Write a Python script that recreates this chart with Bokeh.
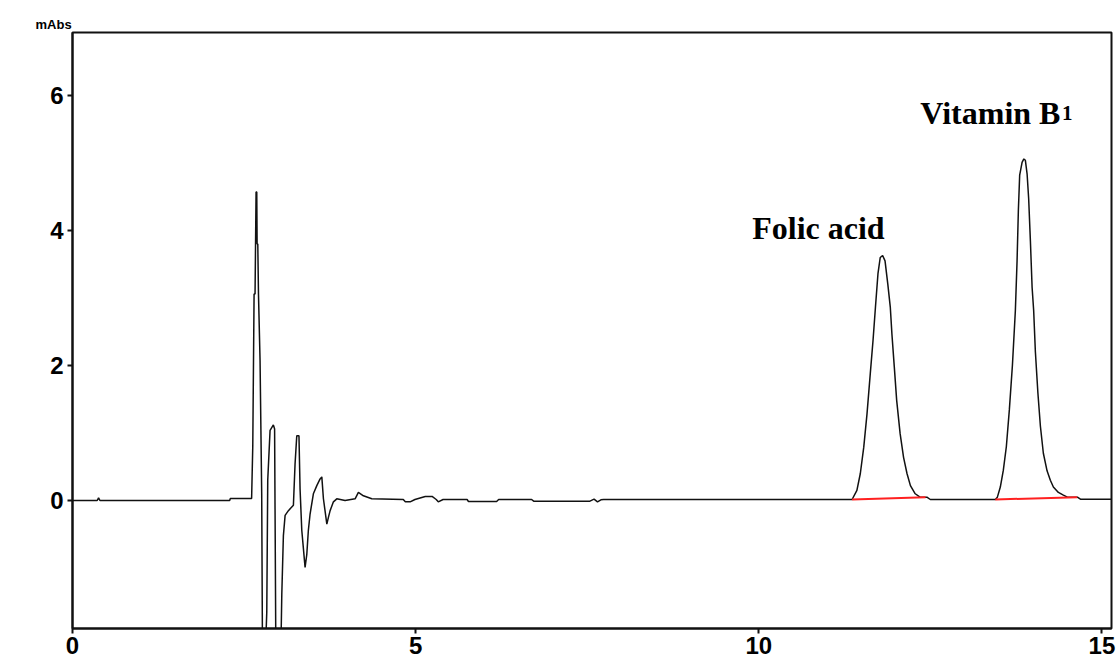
from bokeh.plotting import figure
from bokeh.models import ColumnDataSource, FixedTicker, Range1d
from bokeh.core.properties import value
from bokeh.embed import file_html
from bokeh.resources import INLINE

# ---- data (time in min, absorbance in mAbs) ----
time_min = [0.0, 0.36, 0.38, 0.40, 2.29, 2.30, 2.61, 2.627, 2.646, 2.66, 2.675, 2.685, 2.69, 2.70, 2.71,
            2.733, 2.757, 2.77, 2.80, 2.831, 2.845, 2.879, 2.927, 2.945, 2.965, 3.03, 3.050, 3.073,
            3.098, 3.146, 3.219, 3.243, 3.268, 3.30, 3.316, 3.341, 3.389, 3.414, 3.437, 3.462, 3.510,
            3.560, 3.608, 3.633, 3.656, 3.706, 3.729, 3.754, 3.802, 3.851, 3.972, 4.118, 4.166, 4.239,
            4.361, 4.82, 4.85, 4.92, 4.99, 5.14, 5.24, 5.30, 5.33, 5.40, 5.75, 5.77, 6.18, 6.21, 6.69,
            6.72, 7.54, 7.60, 7.65, 7.70, 7.74, 11.36,
            11.43, 11.48, 11.53, 11.577, 11.625, 11.665, 11.70, 11.737, 11.77, 11.805, 11.84, 11.88,
            11.917, 11.94, 11.975, 12.01, 12.06, 12.11, 12.16, 12.21, 12.28, 12.35, 12.45, 12.50,
            13.447, 13.477, 13.520, 13.564, 13.608, 13.652, 13.696, 13.739, 13.764, 13.783, 13.802,
            13.837, 13.863, 13.885, 13.910, 13.933, 13.958, 13.983, 14.006, 14.031, 14.067, 14.104,
            14.147, 14.201, 14.249, 14.293, 14.366, 14.439, 14.497, 14.643, 14.687, 15.14]
absorbance = [0.0, 0.0, 0.04, 0.0, 0.0, 0.03, 0.03, 0.81, 3.06, 3.06, 4.57, 4.57, 3.80, 3.80, 3.06,
              2.07, 0.10, -2.6, -2.6, -1.65, 0.30, 1.04, 1.12, 1.06, -2.6, -2.6, -1.38, -0.52,
              -0.22, -0.15, -0.07, 0.54, 0.96, 0.96, 0.17, -0.44, -0.99, -0.80, -0.44, -0.20, 0.10,
              0.22, 0.32, 0.35, 0.03, -0.35, -0.25, -0.15, -0.02, 0.025, 0.0, 0.025, 0.12, 0.07,
              0.025, 0.015, -0.02, -0.02, 0.015, 0.06, 0.06, 0.015, -0.02, 0.015, 0.015, -0.015,
              -0.015, 0.015, 0.015, -0.01, -0.01, 0.02, -0.02, 0.01, 0.015, 0.015,
              0.15, 0.40, 0.79, 1.28, 1.88, 2.37, 2.86, 3.36, 3.60, 3.63, 3.55, 3.21,
              2.86, 2.47, 1.98, 1.48, 0.99, 0.64, 0.40, 0.22, 0.10, 0.05, 0.05, 0.015,
              0.015, 0.05, 0.20, 0.45, 0.80, 1.35, 2.00, 2.81, 3.55, 4.30, 4.82,
              5.01, 5.06, 5.04, 4.84, 4.47, 3.85, 3.16, 2.81, 2.20, 1.60, 1.10,
              0.70, 0.44, 0.30, 0.20, 0.12, 0.08, 0.05, 0.05, 0.02, 0.02]

# integration baselines (start, end) for each peak
base_x0 = [11.36, 13.447]
base_y0 = [0.015, 0.015]
base_x1 = [12.43, 14.64]
base_y1 = [0.05, 0.05]

# peak annotations
peak_names = ["Folic acid", "Vitamin B"]
peak_label_x = [9.905, 12.354]
peak_label_y = [4.04, 5.74]
sub_text = ["1"]
sub_x = [14.42]
sub_y = [5.74]

y_unit = "mAbs"
x_ticks = [0, 5, 10, 15]
y_ticks = [0, 2, 4, 6]
x_lo, x_hi = 0.0, 15.14
y_lo, y_hi = -1.896, 6.933

p = figure(width=1116, height=661, output_backend="svg", toolbar_location=None,
           x_range=Range1d(x_lo, x_hi), y_range=Range1d(y_lo, y_hi),
           min_border_left=72, min_border_right=5, min_border_top=32, min_border_bottom=33)
p.background_fill_color = "white"
p.border_fill_color = "white"
p.outline_line_color = "#111111"
p.outline_line_width = 2
p.xgrid.visible = False
p.ygrid.visible = False

p.title.text = y_unit
p.title.align = "left"
p.title.offset = -37
p.title.standoff = 2
p.title.text_font = "Liberation Sans"
p.title.text_font_style = "bold"
p.title.text_font_size = "13px"
p.title.text_color = "black"

p.line(time_min, absorbance, line_color="#111111", line_width=1.5)
p.segment(x0=base_x0, y0=base_y0, x1=base_x1, y1=base_y1, line_color="#ff2020", line_width=2)

src = ColumnDataSource(dict(x=peak_label_x, y=peak_label_y, t=peak_names))
p.text(x="x", y="y", text="t", source=src, text_font=value("Liberation Serif"),
       text_font_style="bold", text_font_size="32px", text_color="black",
       text_baseline="alphabetic", text_align="left")
src2 = ColumnDataSource(dict(x=sub_x, y=sub_y, t=sub_text))
p.text(x="x", y="y", text="t", source=src2, text_font=value("Liberation Serif"),
       text_font_style="bold", text_font_size="21px", text_color="black",
       text_baseline="alphabetic", text_align="left")

for ax in (p.xaxis[0], p.yaxis[0]):
    ax.axis_line_color = "#111111"
    ax.axis_line_width = 2
    ax.major_tick_line_color = "#111111"
    ax.major_tick_line_width = 2
    ax.major_tick_out = 5
    ax.major_tick_in = 0
    ax.minor_tick_line_color = None
    ax.major_label_text_font = "Liberation Sans"
    ax.major_label_text_font_style = "bold"
    ax.major_label_text_font_size = "24px"
    ax.major_label_text_color = "black"

p.xaxis.ticker = FixedTicker(ticks=x_ticks)
p.yaxis.ticker = FixedTicker(ticks=y_ticks)
p.xaxis.major_label_standoff = 3
p.yaxis.major_label_standoff = 4

open("out.html", "w").write(file_html(p, INLINE))
